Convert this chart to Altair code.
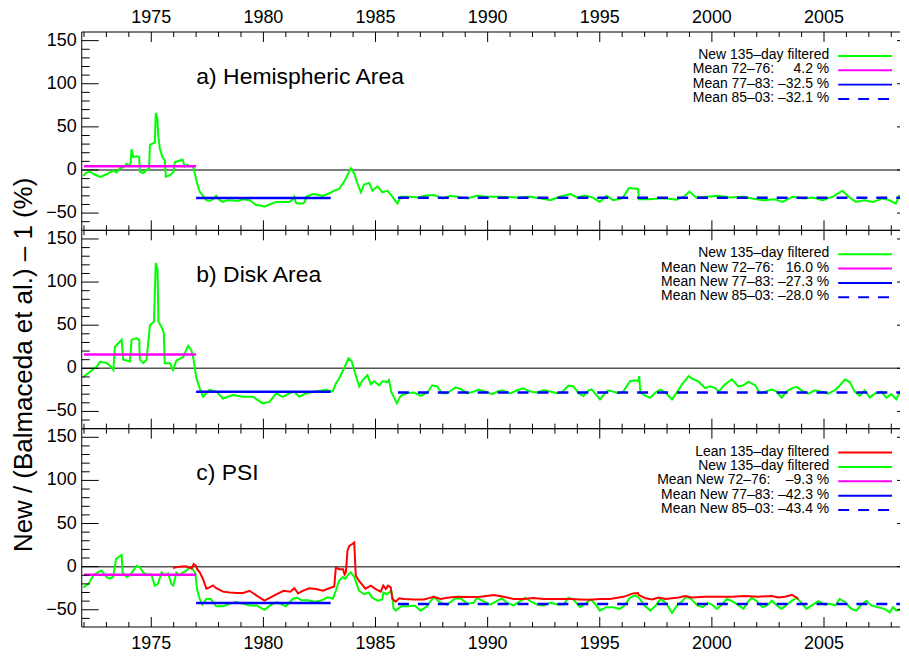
import altair as alt
import pandas as pd

FONT = "Liberation Sans"

# ---------------- data ----------------
a_year = [1971.97, 1972.1, 1972.27, 1972.45, 1972.72, 1973.01, 1973.2, 1973.31, 1973.46, 1973.6,
          1973.75, 1973.9, 1974.0, 1974.08, 1974.12, 1974.2, 1974.35, 1974.46, 1974.49, 1974.64,
          1974.79, 1974.9, 1974.94, 1975.1, 1975.16, 1975.2, 1975.27, 1975.31, 1975.38, 1975.5,
          1975.6, 1975.65, 1975.83, 1976.0, 1976.05, 1976.27, 1976.4, 1976.49, 1976.6, 1976.71,
          1976.86, 1976.94, 1977.04, 1977.16, 1977.31, 1977.46, 1977.6, 1977.75, 1977.9, 1978.05,
          1978.2, 1978.4, 1978.64, 1978.85, 1979.09, 1979.38, 1979.55, 1979.68, 1979.85, 1980.05,
          1980.27, 1980.57, 1980.86, 1981.16, 1981.3, 1981.38, 1981.45, 1981.53, 1981.75, 1981.85,
          1981.9, 1982.2, 1982.45, 1982.64, 1982.94, 1983.16, 1983.38, 1983.6, 1983.75, 1983.9,
          1984.05, 1984.2, 1984.35, 1984.49, 1984.72, 1984.86, 1985.09, 1985.31, 1985.53, 1985.75,
          1985.98, 1986.12, 1986.5, 1986.9, 1987.2, 1987.6, 1988.0, 1988.34, 1988.8, 1989.1,
          1989.5, 1990.0, 1990.57, 1991.3, 1991.9, 1992.4, 1992.8, 1993.2, 1993.7, 1994.0,
          1994.34, 1994.7, 1995.0, 1995.3, 1995.6, 1996.0, 1996.3, 1996.71, 1996.75, 1997.2,
          1997.6, 1998.0, 1998.42, 1998.75, 1999.0, 1999.3, 1999.8, 2000.3, 2000.8, 2001.4,
          2001.8, 2002.3, 2002.8, 2003.15, 2003.6, 2004.1, 2004.5, 2004.93, 2005.4, 2005.82,
          2006.1, 2006.42, 2006.8, 2007.2, 2007.6, 2007.9, 2008.2, 2008.35, 2008.57, 2008.72]
a_val = [-7, -3, -2, -5, -8, -5, -2, -1, -3, 2,
         3, 7, 5, 8, 24, 15, 16, 15, -2, -3.5,
         0, 1, 29, 31, 32, 66, 60, 40, 25, 15,
         11, -8, -6, -2, 9, 11, 12, 4, 6, 5,
         4, -4, -15, -25, -30, -35, -36, -34, -30, -35,
         -37, -35, -35.5, -36, -34, -35, -38, -41, -41, -42.5,
         -40, -37, -37, -37, -34, -31, -38, -39, -39, -37,
         -31, -28, -29, -30, -27, -24, -22, -13.5, -6, 2,
         -4, -16, -26, -17, -15, -24, -19, -26, -24, -31,
         -39, -31, -31, -32, -30, -29, -33, -30, -32, -33,
         -30, -31, -31, -32, -31, -33, -35, -31, -28, -32,
         -29.5, -32, -37, -30, -35, -33, -21, -22, -34, -34,
         -33, -33, -34.5, -31, -25, -32, -31, -30, -32, -31,
         -33, -35, -34, -37, -31, -33, -32, -35, -31, -24,
         -31, -37, -35, -37, -33, -35, -39, -30, -28, -34]

b_year = [1971.97, 1972.27, 1972.57, 1972.72, 1973.01, 1973.16, 1973.31, 1973.38, 1973.53, 1973.68,
          1973.75, 1973.9, 1974.05, 1974.12, 1974.34, 1974.46, 1974.49, 1974.64, 1974.79, 1974.94,
          1975.12, 1975.2, 1975.28, 1975.32, 1975.46, 1975.56, 1975.6, 1975.83, 1975.97, 1976.12,
          1976.42, 1976.64, 1976.79, 1976.89, 1977.01, 1977.16, 1977.31, 1977.6, 1977.9, 1978.2,
          1978.64, 1979.09, 1979.53, 1979.97, 1980.27, 1980.57, 1980.86, 1981.16, 1981.38, 1981.6,
          1981.9, 1982.34, 1982.79, 1983.09, 1983.23, 1983.38, 1983.6, 1983.8, 1983.94, 1984.05,
          1984.27, 1984.42, 1984.64, 1984.79, 1984.94, 1985.16, 1985.31, 1985.53, 1985.6, 1985.71,
          1985.83, 1985.95, 1986.12, 1986.42, 1986.72, 1987.01, 1987.31, 1987.53, 1987.75, 1987.97,
          1988.2, 1988.57, 1988.79, 1989.09, 1989.38, 1989.6, 1989.9, 1990.2, 1990.42, 1990.64,
          1991.01, 1991.31, 1991.6, 1991.9, 1992.2, 1992.49, 1992.79, 1993.09, 1993.31, 1993.6,
          1993.83, 1994.05, 1994.27, 1994.5, 1994.64, 1994.79, 1995.01, 1995.23, 1995.38, 1995.6,
          1995.83, 1996.05, 1996.35, 1996.57, 1996.72, 1996.76, 1996.81, 1997.04, 1997.26, 1997.48,
          1997.7, 1997.93, 1998.22, 1998.44, 1998.67, 1998.96, 1999.11, 1999.41, 1999.7, 1999.93,
          2000.15, 2000.3, 2000.59, 2000.89, 2001.18, 2001.41, 2001.63, 2001.93, 2002.15, 2002.37,
          2002.67, 2002.89, 2003.11, 2003.33, 2003.56, 2003.78, 2004.0, 2004.3, 2004.59, 2004.89,
          2005.19, 2005.48, 2005.7, 2005.93, 2006.15, 2006.37, 2006.59, 2006.81, 2007.04, 2007.26,
          2007.56, 2007.78, 2008.0, 2008.22, 2008.44, 2008.59, 2008.72]
b_val = [-10, -4, 2, 7.7, 6, 3, -2, 25, 29, 33,
         10, 9, 8, 33, 35, 33, 10, 6, 10, 50,
         54, 122, 114, 54, 48, 41, 6, 6, -2, 9,
         13, 26, 21, 10, -11.6, -23, -33, -25, -27, -35,
         -31, -33, -33, -40.6, -39, -29, -33, -29, -27, -33,
         -29, -27, -25, -27, -17.8, -11.6, 0, 11.6, 8, -2,
         -21, -14, -8, -18.6, -15, -19.7, -15, -16, -13.5, -28,
         -34, -40.6, -32, -28.7, -28, -32, -28, -19.7, -21, -29,
         -29, -22, -24, -29, -27, -24.7, -27, -30, -27, -25.5,
         -29, -25.5, -23.2, -27, -28, -25.5, -27, -29, -28, -20,
         -21, -29, -32, -25.5, -24.5, -29, -36, -29, -25.5, -27,
         -29, -27, -15, -14, -15, -9, -28, -32, -34, -28,
         -24.7, -28, -36, -28, -18.6, -9, -12, -15.5, -23, -21,
         -23, -27, -18.6, -12.7, -21, -19.7, -15.5, -19.7, -29, -27,
         -24.7, -27, -34, -27, -23.2, -21.5, -25.5, -29.5, -25.5, -27,
         -29.5, -25.5, -20, -13, -16, -27, -32, -25.5, -34, -29.5,
         -27, -34, -30, -36, -24.7, -12, -22]

c_new_year = [1971.97, 1972.2, 1972.42, 1972.65, 1972.79, 1973.0, 1973.15, 1973.3, 1973.43, 1973.6,
              1973.68, 1973.72, 1973.9, 1974.05, 1974.2, 1974.34, 1974.5, 1974.65, 1974.8, 1975.0,
              1975.16, 1975.3, 1975.46, 1975.6, 1975.75, 1975.9, 1975.98, 1976.12, 1976.25, 1976.4,
              1976.55, 1976.71, 1976.85, 1976.97, 1977.04, 1977.16, 1977.28, 1977.45, 1977.65, 1977.9,
              1978.2, 1978.5, 1978.8, 1979.1, 1979.4, 1979.7, 1980.05, 1980.3, 1980.6, 1981.0,
              1981.31, 1981.5, 1981.7, 1982.0, 1982.3, 1982.6, 1982.86, 1983.1, 1983.23, 1983.38,
              1983.55, 1983.65, 1983.8, 1983.9, 1984.05, 1984.27, 1984.5, 1984.7, 1984.85, 1985.1,
              1985.3, 1985.35, 1985.5, 1985.7, 1985.75, 1985.8, 1985.9, 1986.15, 1986.45, 1986.75,
              1987.01, 1987.3, 1987.6, 1987.9, 1988.2, 1988.57, 1988.8, 1989.09, 1989.37, 1989.53,
              1989.8, 1990.12, 1990.4, 1990.64, 1990.86, 1991.16, 1991.45, 1991.68, 1991.9, 1992.2,
              1992.5, 1992.8, 1993.1, 1993.4, 1993.6, 1993.82, 1994.12, 1994.4, 1994.6, 1994.85,
              1995.0, 1995.3, 1995.6, 1995.9, 1996.1, 1996.35, 1996.57, 1996.74, 1997.0, 1997.26,
              1997.5, 1997.7, 1997.95, 1998.22, 1998.45, 1998.67, 1998.89, 1999.1, 1999.35, 1999.6,
              1999.8, 2000.0, 2000.22, 2000.45, 2000.67, 2000.9, 2001.2, 2001.41, 2001.63, 2001.78,
              2002.0, 2002.25, 2002.47, 2002.67, 2002.9, 2003.11, 2003.35, 2003.55, 2003.78, 2004.0,
              2004.22, 2004.45, 2004.75, 2005.04, 2005.26, 2005.5, 2005.7, 2005.93, 2006.22, 2006.44,
              2006.67, 2006.89, 2007.11, 2007.4, 2007.7, 2007.93, 2008.08, 2008.22, 2008.45, 2008.59,
              2008.72]
c_new_val = [-24, -20, -10, -6, -4.6, -12, -14, -12, 9, 12,
             13.5, -6.6, -12, -10, -4.6, 1, -1, -7, -9, -9,
             -22, -20, -6.6, -10, -8, -20, -22, -7, -10, -7,
             -5, -1, -3, -8, -26, -37.5, -44, -37.5, -37.5, -46,
             -46, -43, -41, -43, -45, -45, -50, -45, -41, -46,
             -37.5, -36, -39, -39, -41, -39, -35.5, -37, -28, -16,
             -12, -14, -8.5, -6.6, -12, -28, -32, -30, -36, -39.6,
             -38, -30, -32, -28, -34, -48, -51, -46, -46, -45,
             -51, -46, -35, -42, -44, -36.7, -37, -43, -42, -36.3,
             -40, -44, -40, -36.7, -42, -45, -40, -36, -40, -44,
             -45, -42, -44, -44, -36, -38, -47, -42, -38, -45,
             -51, -47, -47, -49, -45, -36, -33.4, -36, -45, -51,
             -45, -37.5, -42, -53.7, -45, -40, -34.4, -38, -45, -47,
             -42, -44, -49, -44, -37.5, -40, -45, -49, -40, -36,
             -40, -47, -45, -39.5, -45, -49, -44, -40, -36, -42,
             -49, -45, -40, -44, -43, -45, -37.5, -41, -49, -51,
             -44, -39.6, -45, -47, -49, -53, -47, -51, -49, -41.5,
             -45]

c_lean_year = [1975.97, 1976.25, 1976.55, 1976.8, 1976.89, 1977.0, 1977.05, 1977.16, 1977.3, 1977.46,
               1977.6, 1977.75, 1977.9, 1978.2, 1978.5, 1978.8, 1979.1, 1979.38, 1979.7, 1980.05,
               1980.3, 1980.6, 1980.9, 1981.2, 1981.38, 1981.55, 1981.75, 1982.05, 1982.35, 1982.65,
               1982.94, 1983.16, 1983.23, 1983.38, 1983.55, 1983.62, 1983.68, 1983.75, 1983.83, 1983.95,
               1984.05, 1984.12, 1984.25, 1984.55, 1984.79, 1985.01, 1985.23, 1985.35, 1985.46, 1985.56,
               1985.68, 1985.75, 1985.9, 1986.05, 1986.27, 1986.72, 1987.16, 1987.38, 1987.6, 1987.9,
               1988.2, 1988.64, 1989.23, 1989.68, 1990.27, 1990.72, 1991.16, 1991.6, 1992.05, 1992.5,
               1993.09, 1993.68, 1994.12, 1994.57, 1995.01, 1995.46, 1996.05, 1996.49, 1996.7, 1996.74,
               1997.04, 1997.33, 1997.63, 1997.93, 1998.22, 1998.52, 1998.8, 1999.1, 1999.7, 2000.3,
               2000.9, 2001.48, 2002.07, 2002.67, 2002.96, 2003.26, 2003.56, 2003.78, 2003.85]
c_lean_val = [-1.5, 0, 0.5, -2, 3, 1, -3, -6.6, -14, -25.6,
              -24, -21.7, -25, -29, -30, -30.6, -30.6, -28, -33.6, -39.4,
              -36, -32, -28, -29, -25, -31, -28, -25, -26, -28,
              -25, -23, -1, -3, -3, -9, -6.6, 18.6, 24, 26,
              28, -10.4, -16, -25.6, -22, -26, -29, -22, -26, -22,
              -24, -37.6, -40.6, -36.7, -37.6, -38, -38, -36.5, -35, -37.6,
              -36, -35, -35.3, -35, -33, -35, -37.6, -37.6, -36.5, -37.6,
              -37.6, -37.6, -38, -38.4, -37.6, -37.6, -35, -31, -30.5, -32.8,
              -36.7, -38, -35.7, -37.6, -36.7, -35.7, -34, -35.7, -34.8, -34.8,
              -34.8, -34, -34.8, -34, -35.7, -34.8, -32.8, -35.7, -38]

mean_start = [1972.0, 1977.0, 1986.0]
mean_end = [1977.0, 1983.0, 2008.744]
a_means = [4.2, -32.5, -32.1]
b_means = [16.0, -27.3, -28.0]
c_means = [-9.3, -42.3, -43.4]

x_major = [1975, 1980, 1985, 1990, 1995, 2000, 2005]
x_minor = [1972, 1973, 1974, 1976, 1977, 1978, 1979, 1981, 1982, 1983, 1984, 1986, 1987, 1988,
           1989, 1991, 1992, 1993, 1994, 1996, 1997, 1998, 1999, 2001, 2002, 2003, 2004, 2006,
           2007, 2008]
y_major = [-50, 0, 50, 100, 150]
y_minor = [-60, -40, -30, -20, -10, 10, 20, 30, 40, 60, 70, 80, 90, 110, 120, 130, 140]

titles = ["a) Hemispheric Area", "b) Disk Area", "c) PSI"]
legend_a = ["New 135\u2013day filtered",
            "Mean 72\u201376:\u00a0\u00a0\u00a0\u00a0\u00a04.2 %",
            "Mean 77\u201383: \u201332.5 %",
            "Mean 85\u201303: \u201332.1 %"]
legend_b = ["New 135\u2013day filtered",
            "Mean New 72\u201376:\u00a0\u00a0\u00a016.0 %",
            "Mean New 77\u201383: \u201327.3 %",
            "Mean New 85\u201303: \u201328.0 %"]
legend_c = ["Lean 135\u2013day filtered",
            "New 135\u2013day filtered",
            "Mean New 72\u201376:\u00a0\u00a0\u00a0\u00a0\u20139.3 %",
            "Mean New 77\u201383: \u201342.3 %",
            "Mean New 85\u201303: \u201343.4 %"]
y_title = "New / (Balmaceda et al.) \u2013 1 (%)"

# ---------------- styling / geometry ----------------
W = 821          # plot width (the page clips the right end of the original frame)
H = 199          # height of each panel
PX_PER_YEAR = 22.5
X0 = 1971.9
GREEN = "#00ff00"
RED = "#ff0000"
MAGENTA = "#ff00ff"
BLUE = "#0000ff"
DASH = [11, 9]

XS = alt.Scale(domain=[X0, X0 + W / PX_PER_YEAR], nice=False, zero=False)
YS = alt.Scale(domain=[-70, 160], nice=False, zero=False)


def series(years, vals, color):
    df = pd.DataFrame({"year": years, "value": vals})
    return alt.Chart(df).mark_line(color=color, strokeWidth=2, clip=True).encode(
        x=alt.X("year:Q", scale=XS, axis=None),
        y=alt.Y("value:Q", scale=YS, axis=None))


def means(vals):
    df = pd.DataFrame({"start": mean_start, "end": mean_end, "v": vals,
                       "k": ["p1", "p2", "p3"]})
    solid = alt.Chart(df).transform_filter("datum.k != 'p3'").mark_rule(
        strokeWidth=2.5, clip=True).encode(
        x=alt.X("start:Q", scale=XS, axis=None), x2="end:Q",
        y=alt.Y("v:Q", scale=YS, axis=None),
        color=alt.Color("k:N", scale=alt.Scale(domain=["p1", "p2"], range=[MAGENTA, BLUE]),
                        legend=None))
    dashed = alt.Chart(df).transform_filter("datum.k == 'p3'").mark_rule(
        strokeWidth=2.5, color=BLUE, strokeDash=DASH, clip=True).encode(
        x=alt.X("start:Q", scale=XS, axis=None), x2="end:Q",
        y=alt.Y("v:Q", scale=YS, axis=None))
    return [solid, dashed]


def zero_line():
    return alt.Chart(pd.DataFrame({"v": [0]})).mark_rule(color="#555555", strokeWidth=1.5).encode(
        y=alt.Y("v:Q", scale=YS, axis=None))


def frame_and_ticks(top_labels=False, bottom_labels=False):
    out = []
    xmj = pd.DataFrame({"t": x_major})
    xmn = pd.DataFrame({"t": x_minor})
    ymj = pd.DataFrame({"t": y_major})
    ymn = pd.DataFrame({"t": y_minor})
    rk = dict(color="black", strokeWidth=1)
    out.append(alt.Chart(xmj).mark_rule(**rk).encode(
        x=alt.X("t:Q", scale=XS, axis=None), y=alt.value(0), y2=alt.value(10)))
    out.append(alt.Chart(xmj).mark_rule(**rk).encode(
        x=alt.X("t:Q", scale=XS, axis=None), y=alt.value(H - 10), y2=alt.value(H)))
    out.append(alt.Chart(xmn).mark_rule(**rk).encode(
        x=alt.X("t:Q", scale=XS, axis=None), y=alt.value(0), y2=alt.value(5)))
    out.append(alt.Chart(xmn).mark_rule(**rk).encode(
        x=alt.X("t:Q", scale=XS, axis=None), y=alt.value(H - 5), y2=alt.value(H)))
    out.append(alt.Chart(ymj).mark_rule(**rk).encode(
        y=alt.Y("t:Q", scale=YS, axis=None), x=alt.value(0), x2=alt.value(17)))
    out.append(alt.Chart(ymn).mark_rule(**rk).encode(
        y=alt.Y("t:Q", scale=YS, axis=None), x=alt.value(0), x2=alt.value(8)))
    out.append(alt.Chart(ymj).mark_rule(**rk).encode(
        y=alt.Y("t:Q", scale=YS, axis=None), x=alt.value(W - 3), x2=alt.value(W)))
    # y tick labels
    out.append(alt.Chart(ymj).mark_text(
        align="right", baseline="middle", fontSize=18, font=FONT, color="black").encode(
        y=alt.Y("t:Q", scale=YS, axis=None), x=alt.value(-5),
        text=alt.Text("t:Q", format="d")))
    if top_labels:
        out.append(alt.Chart(xmj).mark_text(
            align="center", baseline="middle", fontSize=18, font=FONT, color="black").encode(
            x=alt.X("t:Q", scale=XS, axis=None), y=alt.value(-14),
            text=alt.Text("t:Q", format="d")))
    if bottom_labels:
        out.append(alt.Chart(xmj).mark_text(
            align="center", baseline="middle", fontSize=18, font=FONT, color="black").encode(
            x=alt.X("t:Q", scale=XS, axis=None), y=alt.value(H + 17),
            text=alt.Text("t:Q", format="d")))
    # frame (top, bottom, left) - the right side of the frame lies beyond the picture
    fr = pd.DataFrame({"f": [0]})
    out.append(alt.Chart(fr).mark_rule(**rk).encode(
        x=alt.value(0), x2=alt.value(W), y=alt.value(0)))
    out.append(alt.Chart(fr).mark_rule(**rk).encode(
        x=alt.value(0), x2=alt.value(W), y=alt.value(H)))
    out.append(alt.Chart(fr).mark_rule(**rk).encode(
        x=alt.value(0), y=alt.value(0), y2=alt.value(H)))
    return out


def title_text(t):
    return alt.Chart(pd.DataFrame({"t": [t]})).mark_text(
        align="left", baseline="alphabetic", fontSize=23, font=FONT, color="black").encode(
        text="t:N", x=alt.value(115), y=alt.value(52))


def legend(labels, colors, dashed_flags, y0=23.0, step=14.4):
    out = []
    for i, lab in enumerate(labels):
        yy = y0 + i * step
        d = pd.DataFrame({"t": [lab]})
        out.append(alt.Chart(d).mark_text(
            align="right", baseline="middle", fontSize=14, font=FONT, color="black").encode(
            text="t:N", x=alt.value(750), y=alt.value(yy)))
        rk = dict(color=colors[i], strokeWidth=2)
        if dashed_flags[i]:
            rk["strokeDash"] = DASH
        out.append(alt.Chart(d).mark_rule(**rk).encode(
            x=alt.value(759), x2=alt.value(813), y=alt.value(yy + 1)))
    return out


panel_a = alt.layer(
    zero_line(), series(a_year, a_val, GREEN), *means(a_means),
    *frame_and_ticks(top_labels=True), title_text(titles[0]),
    *legend(legend_a, [GREEN, MAGENTA, BLUE, BLUE], [False, False, False, True])
).properties(width=W, height=H)

ytitle = alt.Chart(pd.DataFrame({"t": [y_title]})).mark_text(
    angle=270, align="center", baseline="middle", fontSize=26, font=FONT, color="black").encode(
    text="t:N", x=alt.value(-58), y=alt.value(135))

panel_b = alt.layer(
    zero_line(), series(b_year, b_val, GREEN), *means(b_means),
    *frame_and_ticks(), title_text(titles[1]),
    *legend(legend_b, [GREEN, MAGENTA, BLUE, BLUE], [False, False, False, True]),
    ytitle
).properties(width=W, height=H)

panel_c = alt.layer(
    zero_line(), series(c_new_year, c_new_val, GREEN), series(c_lean_year, c_lean_val, RED),
    *means(c_means),
    *frame_and_ticks(bottom_labels=True), title_text(titles[2]),
    *legend(legend_c, [RED, GREEN, MAGENTA, BLUE, BLUE], [False, False, False, False, True])
).properties(width=W, height=H)

chart = alt.vconcat(panel_a, panel_b, panel_c, spacing=0, bounds="flush").properties(
    padding={"left": 2, "top": 0, "right": 0, "bottom": 0}
).configure_view(stroke=None).configure_concat(spacing=0)

chart.save("out.html", embed_options={"renderer": "svg", "actions": False})
